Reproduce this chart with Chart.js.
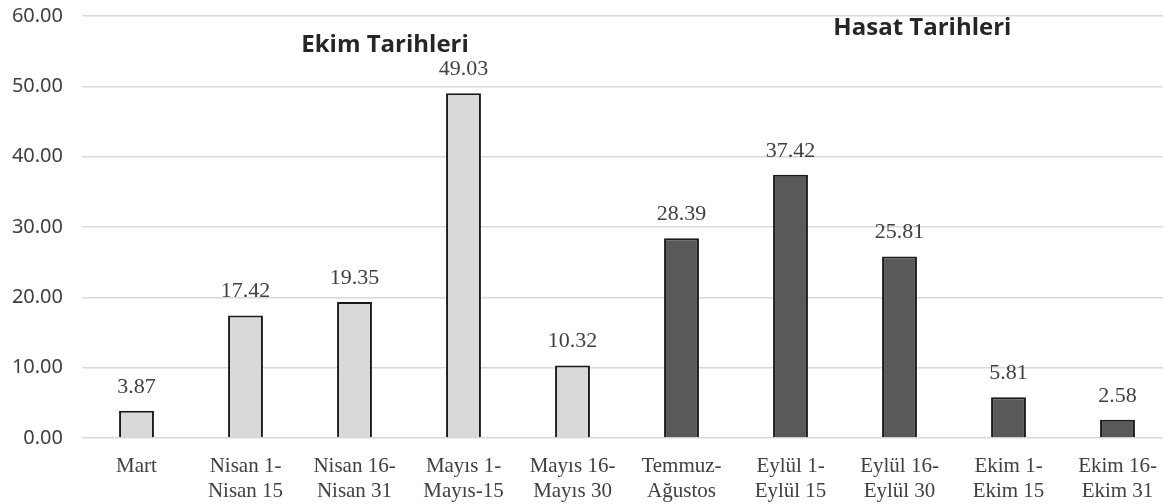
<!DOCTYPE html>
<html>
<head>
<meta charset="utf-8">
<script src="https://cdn.jsdelivr.net/npm/chart.js@4/dist/chart.umd.min.js"></script>
<style>
  html, body { margin: 0; padding: 0; background: #fff; overflow: hidden; }
  #wrap { width: 1172px; height: 504px; }
</style>
</head>
<body>
<div id="wrap"><canvas id="myChart"></canvas></div>
<script>
const categories = [
  ['Mart'], ['Nisan 1-', 'Nisan 15'], ['Nisan 16-', 'Nisan 31'], ['Mayıs 1-', 'Mayıs-15'],
  ['Mayıs 16-', 'Mayıs 30'], ['Temmuz-', 'Ağustos'], ['Eylül 1-', 'Eylül 15'],
  ['Eylül 16-', 'Eylül 30'], ['Ekim 1-', 'Ekim 15'], ['Ekim 16-', 'Ekim 31']
];
const values = [3.87, 17.42, 19.35, 49.03, 10.32, 28.39, 37.42, 25.81, 5.81, 2.58];
// 0 = ekim (sowing), 1 = hasat (harvest)
const groups = [0, 0, 0, 0, 0, 1, 1, 1, 1, 1];
const groupColors = ['#d9d9d9', '#595959'];
const yTicks = [0, 10, 20, 30, 40, 50, 60];
const notes = [
  { text: 'Ekim Tarihleri', x: 2.28, y: 55.8 },
  { text: 'Hasat Tarihleri', x: 7.21, y: 58.3 }
];

// value labels above bars + the two group titles
const labelPlugin = {
  id: 'labels',
  afterDatasetsDraw(chart) {
    const ctx = chart.ctx;
    const meta = chart.getDatasetMeta(0);
    ctx.save();
    ctx.font = '22px "Liberation Serif"';
    ctx.fillStyle = '#404040';
    ctx.textAlign = 'center';
    ctx.textBaseline = 'middle';
    meta.data.forEach((bar, i) => {
      ctx.fillText(values[i].toFixed(2), bar.x, bar.y - 24);
    });
    ctx.font = 'bold 24px "Open Sans"';
    ctx.fillStyle = '#262626';
    const xs = chart.scales.x, ys = chart.scales.y;
    notes.forEach(n => {
      const x = xs.getPixelForValue(0) + n.x * (xs.getPixelForValue(1) - xs.getPixelForValue(0));
      ctx.fillText(n.text, x, ys.getPixelForValue(n.y));
    });
    ctx.restore();
  }
};

const ctx = document.getElementById('myChart').getContext('2d');
const myChart = new Chart(ctx, {
  type: 'bar',
  data: {
    labels: categories,
    datasets: [{
      data: values,
      backgroundColor: groups.map(g => groupColors[g]),
      borderColor: '#1a1a1a',
      borderWidth: 2,
      categoryPercentage: 1,
      barPercentage: 0.32
    }]
  },
  options: {
    responsive: true,
    maintainAspectRatio: false,
    animation: false,
    layout: { padding: { top: 16, right: 0, left: 0, bottom: 0 } },
    plugins: { legend: { display: false }, tooltip: { enabled: false } },
    scales: {
      x: {
        grid: { display: false },
        border: { display: false },
        ticks: {
          font: { family: 'Liberation Serif', size: 21, lineHeight: 1.2 },
          color: '#404040',
          maxRotation: 0,
          autoSkip: false,
          padding: 8
        },
        afterFit(scale) { scale.height = 66; }
      },
      y: {
        min: 0,
        max: 60,
        afterBuildTicks(scale) { scale.ticks = yTicks.map(v => ({ value: v })); },
        grid: { color: '#d9d9d9', lineWidth: 1.5, drawTicks: false },
        border: { display: false },
        ticks: {
          font: { family: 'Noto Sans', size: 20 },
          color: '#404040',
          padding: 19,
          callback: v => v.toFixed(2)
        },
        afterFit(scale) {
          scale.width = 82;
          scale.paddingTop = 0;
          scale.paddingBottom = 0;
        }
      }
    }
  },
  plugins: [labelPlugin]
});
</script>
</body>
</html>
